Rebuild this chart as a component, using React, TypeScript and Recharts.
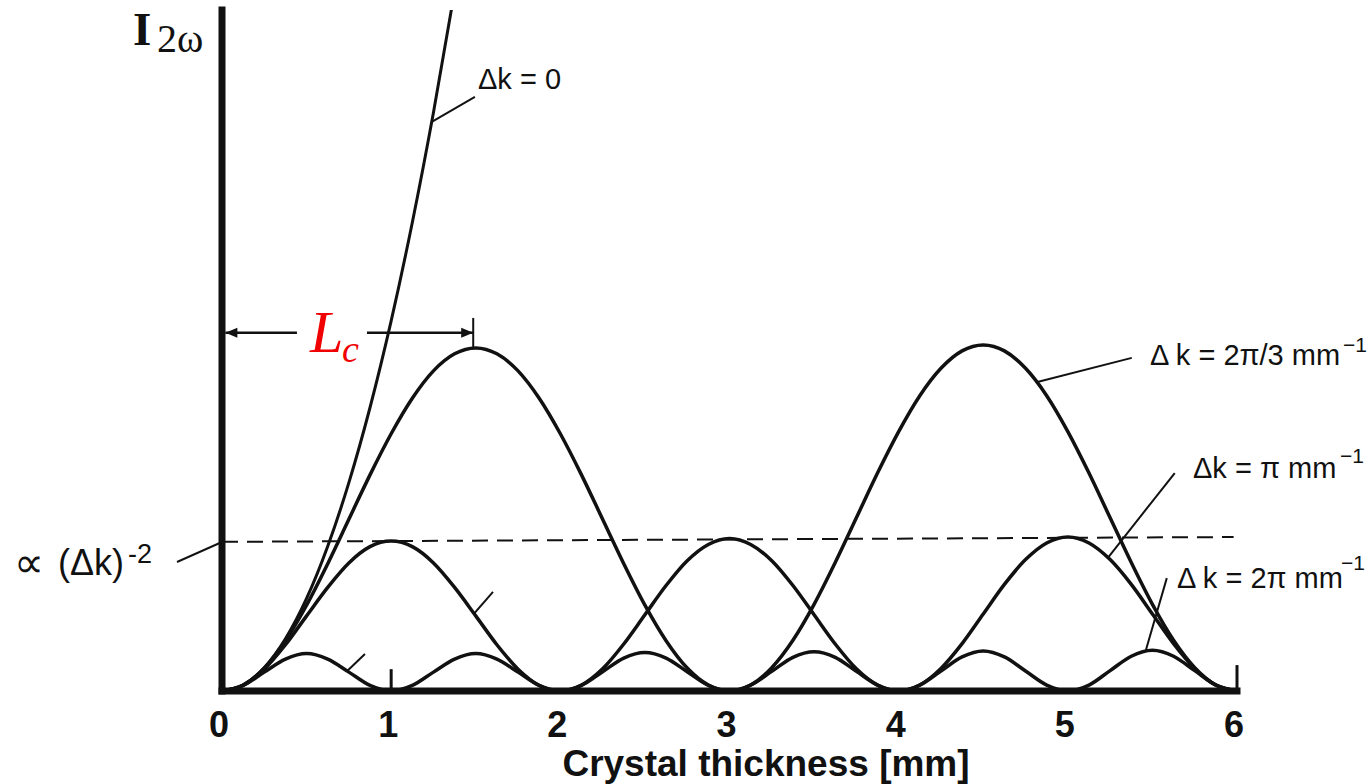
import React from 'react';
import { LineChart, Line, XAxis, YAxis, ReferenceLine } from 'recharts';

// crystal thickness in mm
const thickness = [
  0, 0.125, 0.25, 0.375, 0.5, 0.625, 0.75, 0.875, 1, 1.125, 1.25, 1.375, 1.5, 1.625, 1.75, 1.875,
  2, 2.125, 2.25, 2.375, 2.5, 2.625, 2.75, 2.875, 3, 3.125, 3.25, 3.375, 3.5, 3.625, 3.75, 3.875,
  4, 4.125, 4.25, 4.375, 4.5, 4.625, 4.75, 4.875, 5, 5.125, 5.25, 5.375, 5.5, 5.625, 5.75, 5.875, 6,
];

// second harmonic intensity (arb. units)
const dkZero = [0, 0.016, 0.063, 0.141, 0.25, 0.391, 0.563, 0.766, 1.0, 1.266, 1.563, 1.891];

const dkTwoPiThird = [
  0, 0.016, 0.062, 0.136, 0.232, 0.344, 0.464, 0.584, 0.695, 0.791, 0.865, 0.911, 0.927,
  0.911, 0.865, 0.791, 0.695, 0.584, 0.464, 0.344, 0.232, 0.136, 0.062, 0.016, 0,
  0.016, 0.063, 0.137, 0.234, 0.347, 0.468, 0.589, 0.701, 0.798, 0.872, 0.919, 0.935,
  0.919, 0.872, 0.798, 0.701, 0.589, 0.468, 0.347, 0.234, 0.137, 0.063, 0.016, 0,
];

const dkPi = [
  0, 0.015, 0.059, 0.125, 0.203, 0.28, 0.346, 0.39, 0.405, 0.39, 0.346, 0.28, 0.203, 0.125, 0.059, 0.015,
  0, 0.016, 0.06, 0.127, 0.206, 0.285, 0.352, 0.396, 0.412, 0.396, 0.352, 0.285, 0.206, 0.127, 0.06, 0.016,
  0, 0.016, 0.061, 0.128, 0.208, 0.288, 0.355, 0.4, 0.416, 0.4, 0.355, 0.288, 0.208, 0.128, 0.061, 0.016,
  0,
];

const dkTwoPi = [
  0, 0.015, 0.051, 0.086, 0.101, 0.086, 0.051, 0.015,
  0, 0.015, 0.051, 0.086, 0.101, 0.086, 0.051, 0.015,
  0, 0.015, 0.052, 0.089, 0.104, 0.089, 0.052, 0.015,
  0, 0.016, 0.053, 0.091, 0.106, 0.091, 0.053, 0.016,
  0, 0.016, 0.054, 0.092, 0.108, 0.092, 0.054, 0.016,
  0, 0.016, 0.055, 0.094, 0.11, 0.094, 0.055, 0.016,
  0,
];

const xTicks = [0, 1, 2, 3, 4, 5, 6];

const rows = thickness.map((x, i) => ({
  x,
  dk0: i < dkZero.length ? dkZero[i] : null,
  dk23: dkTwoPiThird[i],
  dkPi: dkPi[i],
  dk2Pi: dkTwoPi[i],
}));

// annotation leader lines, in data units
const leaders = [
  [{ x: 1.24, y: 1.538 }, { x: 1.495, y: 1.605 }],
  [{ x: 4.82, y: 0.835 }, { x: 5.378, y: 0.9 }],
  [{ x: 5.24, y: 0.362 }, { x: 5.632, y: 0.589 }],
  [{ x: 5.46, y: 0.108 }, { x: 5.585, y: 0.305 }],
  [{ x: 1.49, y: 0.209 }, { x: 1.602, y: 0.268 }],
  [{ x: 0.74, y: 0.054 }, { x: 0.845, y: 0.1 }],
];

const ink = '#111';
const sans = '"Liberation Sans", Arial, Helvetica, sans-serif';
const serif = '"Liberation Serif", "Times New Roman", serif';

const ArrowLine = (p: any) => {
  const { x1, y1, x2, y2 } = p;
  const dir = Math.sign(x2 - x1);
  return (
    <g>
      <line x1={x1} y1={y1} x2={x2} y2={y2} stroke={ink} strokeWidth={2.5} />
      <polygon
        points={`${x2},${y2} ${x2 - dir * 12},${y2 - 5} ${x2 - dir * 12},${y2 + 5}`}
        fill={ink}
      />
    </g>
  );
};

const XTick = (p: any) => {
  const { x, y, payload } = p;
  return (
    <text x={x - 3} y={y + 46} textAnchor="middle" fontFamily={sans} fontWeight="bold" fontSize={36} fill={ink}>
      {payload.value}
    </text>
  );
};

export default function App() {
  return (
    <div style={{ position: 'absolute', left: 0, top: 0, width: 1371, height: 784, background: '#fff' }}>
      <LineChart width={1371} height={784} data={rows} margin={{ top: 10, right: 134, bottom: 33, left: 220 }}>
        <XAxis
          dataKey="x"
          type="number"
          domain={[0, 6]}
          ticks={xTicks}
          height={60}
          tickLine={false}
          tickSize={0}
          tickMargin={0}
          tick={<XTick />}
          axisLine={{ stroke: ink, strokeWidth: 7, strokeLinecap: 'square' }}
        />
        <YAxis
          type="number"
          domain={[0, 1.84]}
          allowDataOverflow
          width={2}
          tick={false}
          tickLine={false}
          axisLine={{ stroke: ink, strokeWidth: 7, strokeLinecap: 'square' }}
        />
        <ReferenceLine
          segment={[{ x: 0, y: 0.403 }, { x: 5.98, y: 0.416 }]}
          stroke={ink}
          strokeWidth={2}
          strokeDasharray="16 9"
          ifOverflow="visible"
        />
        <Line type="monotone" dataKey="dk0" stroke={ink} strokeWidth={3} dot={false} isAnimationActive={false} />
        <Line type="monotone" dataKey="dk23" stroke={ink} strokeWidth={3.5} dot={false} isAnimationActive={false} />
        <Line type="monotone" dataKey="dkPi" stroke={ink} strokeWidth={3.5} dot={false} isAnimationActive={false} />
        <Line type="monotone" dataKey="dk2Pi" stroke={ink} strokeWidth={3.5} dot={false} isAnimationActive={false} />
        {leaders.map((seg, i) => (
          <ReferenceLine key={i} segment={seg} stroke={ink} strokeWidth={2} ifOverflow="visible" />
        ))}
        <ReferenceLine segment={[{ x: 1, y: 0 }, { x: 1, y: 0.059 }]} stroke={ink} strokeWidth={3} ifOverflow="visible" />
        <ReferenceLine segment={[{ x: 6, y: 0 }, { x: 6, y: 0.07 }]} stroke={ink} strokeWidth={3} ifOverflow="visible" />
        <ReferenceLine segment={[{ x: 0.443, y: 0.968 }, { x: 0.02, y: 0.968 }]} shape={ArrowLine} ifOverflow="visible" />
        <ReferenceLine segment={[{ x: 0.857, y: 0.968 }, { x: 1.485, y: 0.968 }]} shape={ArrowLine} ifOverflow="visible" />
        <ReferenceLine segment={[{ x: 1.485, y: 0.927 }, { x: 1.485, y: 1.008 }]} stroke={ink} strokeWidth={2} ifOverflow="visible" />
      </LineChart>

      <svg width={1371} height={784} style={{ position: 'absolute', left: 0, top: 0, pointerEvents: 'none' }}>
        <text x={133} y={45} fontFamily={serif} fontWeight="bold" fontSize={47} fill={ink}>I</text>
        <text x={157} y={52} fontFamily={serif} fontSize={40} fill={ink}>2ω</text>

        <text x={14} y={577} fontFamily={sans} fontSize={42} fill={ink}>∝</text>
        <text x={58} y={575} fontFamily={sans} fontSize={36} fill={ink}>(Δk)</text>
        <text x={128} y={563} fontFamily={sans} fontSize={27} fill={ink}>-2</text>
        <line x1={177} y1={562} x2={222} y2={542} stroke={ink} strokeWidth={2} />

        <text x={310} y={352} fontFamily={serif} fontStyle="italic" fontSize={60} fill="#f00000">L</text>
        <text x={342} y={362} fontFamily={serif} fontStyle="italic" fontSize={38} fill="#f00000">c</text>

        <text x={478} y={89} fontFamily={sans} fontSize={29} fill={ink}>Δk = 0</text>
        <text x={1150} y={365} fontFamily={sans} fontSize={29} fill={ink}>Δ k = 2π/3 mm</text>
        <text x={1343} y={352} fontFamily={sans} fontSize={21} fill={ink}>−1</text>
        <text x={1193} y={478} fontFamily={sans} fontSize={29} fill={ink}>Δk = π mm</text>
        <text x={1340} y={463} fontFamily={sans} fontSize={21} fill={ink}>−1</text>
        <text x={1177} y={588} fontFamily={sans} fontSize={29} fill={ink}>Δ k = 2π mm</text>
        <text x={1341} y={570} fontFamily={sans} fontSize={21} fill={ink}>−1</text>

        <text x={766} y={776} textAnchor="middle" fontFamily={sans} fontWeight="bold" fontSize={37} fill={ink}>
          Crystal thickness [mm]
        </text>
      </svg>
    </div>
  );
}
